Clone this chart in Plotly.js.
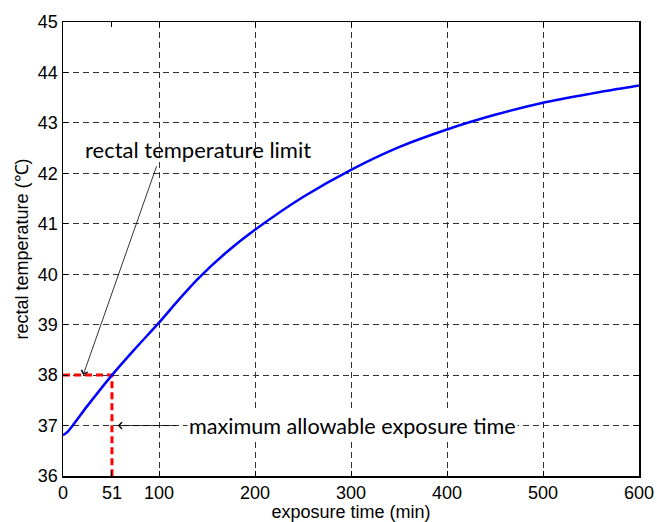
<!DOCTYPE html>
<html>
<head>
<meta charset="utf-8">
<script src="https://cdn.plot.ly/plotly-3.0.1.min.js"></script>
<style>html,body{margin:0;padding:0;background:#fff;}#chart{width:657px;height:522px;}</style>
</head>
<body>
<div id="chart"></div>
<script>
// Exposure time (min) and rectal temperature (°C)
var timeMin = [0, 5, 25, 51, 75, 100, 120, 140, 170, 200, 250, 300, 350, 400, 450, 500, 550, 600];
var rectalTemp = [36.81, 36.88, 37.38, 38.0, 38.52, 39.04, 39.48, 39.9, 40.43, 40.88, 41.53, 42.07, 42.52, 42.87, 43.16, 43.40, 43.58, 43.74];

var limitTemp = 38;
var maxTime = 51;

var xTickVals = [0, 51, 100, 200, 300, 400, 500, 600];
var xTickText = ['0', '51', '100', '200', '300', '400', '500', '600'];
var xGridVals = [100, 200, 300, 400, 500];
var yTickVals = [36, 37, 38, 39, 40, 41, 42, 43, 44, 45];
var yGridVals = [37, 38, 39, 40, 41, 42, 43, 44];

var labelLimit = 'rectal temperature limit';
var labelMaxTime = 'maximum allowable exposure time';

var traces = [
  {
    x: [0, maxTime, maxTime],
    y: [limitTemp, limitTemp, 36],
    mode: 'lines',
    line: {color: '#ff0000', width: 3, dash: '7px,4px'},
    hoverinfo: 'skip'
  },
  {
    x: timeMin,
    y: rectalTemp,
    mode: 'lines',
    line: {color: '#0000ff', width: 2.5, shape: 'spline', smoothing: 0.8},
    hoverinfo: 'skip'
  }
];

var tickFont = {family: 'Liberation Sans, Arial, sans-serif', size: 18, color: '#000'};

var layout = {
  width: 657,
  height: 522,
  margin: {l: 63, r: 18, t: 22, b: 46},
  showlegend: false,
  paper_bgcolor: '#fff',
  plot_bgcolor: '#fff',
  xaxis: {
    range: [0, 600],
    tickmode: 'array',
    tickvals: xTickVals,
    ticktext: xTickText,
    ticks: 'inside',
    ticklen: 5,
    tickcolor: '#000',
    showline: true,
    linecolor: '#000',
    linewidth: 1.5,
    mirror: 'ticks',
    showgrid: false,
    zeroline: false,
    tickfont: tickFont,
    minor: {tickmode: 'array', tickvals: xGridVals, showgrid: true, gridcolor: '#333', griddash: '6px,4px', gridwidth: 1, ticks: ''},
    title: {text: 'exposure time (min)', font: {family: 'Liberation Sans, Arial, sans-serif', size: 18, color: '#000'}, standoff: 0}
  },
  yaxis: {
    range: [36, 45],
    tickmode: 'array',
    tickvals: yTickVals,
    ticks: 'inside',
    ticklen: 5,
    tickcolor: '#000',
    showline: true,
    linecolor: '#000',
    linewidth: 1.5,
    mirror: 'ticks',
    showgrid: false,
    zeroline: false,
    tickfont: tickFont,
    minor: {tickmode: 'array', tickvals: yGridVals, showgrid: true, gridcolor: '#333', griddash: '6px,4px', gridwidth: 1, ticks: ''},
    title: {text: 'rectal temperature (℃)', font: {family: 'Liberation Sans, Arial, sans-serif', size: 18, color: '#000'}, standoff: 4}
  },
  annotations: [
    {
      x: 141, y: 42.47, xref: 'x', yref: 'y',
      text: labelLimit, showarrow: false,
      font: {family: 'Lato, Open Sans, sans-serif', size: 22, color: '#000'}
    },
    {
      x: 21, y: limitTemp, xref: 'x', yref: 'y',
      ax: 98, ay: 42.17, axref: 'x', ayref: 'y',
      showarrow: true, arrowhead: 4, arrowsize: 1.6, arrowwidth: 0.8, arrowcolor: '#000', text: ''
    },
    {
      x: 57, y: 37, xref: 'x', yref: 'y',
      ax: 120, ay: 37, axref: 'x', ayref: 'y',
      showarrow: true, arrowhead: 4, arrowsize: 1.6, arrowwidth: 0.8, arrowcolor: '#000', text: ''
    },
    {
      x: 129, y: 37, xref: 'x', yref: 'y', xanchor: 'left',
      text: labelMaxTime, showarrow: false, bgcolor: '#fff',
      font: {family: 'Lato, Open Sans, sans-serif', size: 21.6, color: '#000'}
    }
  ]
};

Plotly.newPlot('chart', traces, layout, {displayModeBar: false, staticPlot: true});
</script>
</body>
</html>
